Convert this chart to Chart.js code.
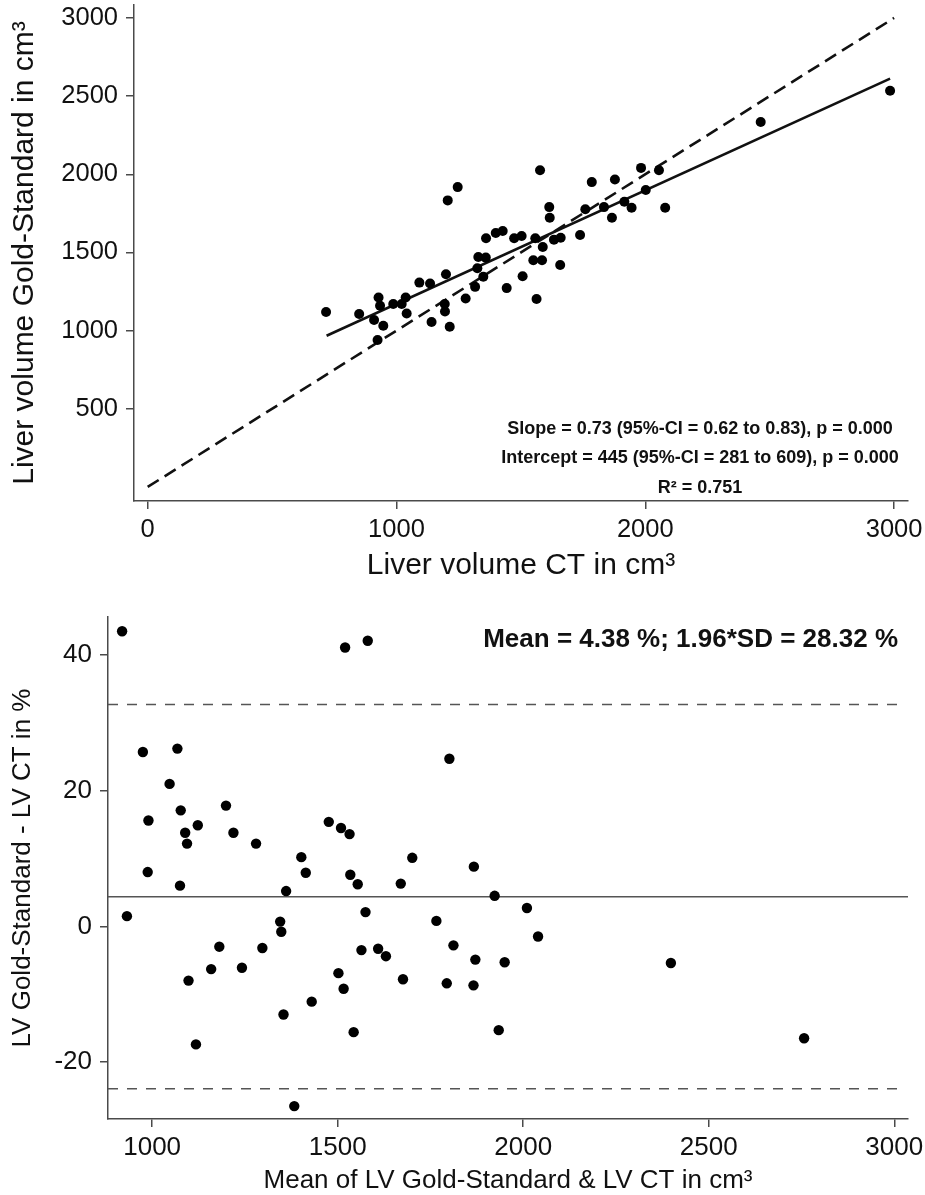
<!doctype html>
<html lang="en">
  <head>
    <meta charset="utf-8">
    <title>Liver volume CT vs Gold-Standard</title>
    <style>
      * {
        margin: 0;
        padding: 0;
      }
      body {
        width: 925px;
        height: 1195px;
        background: #fff;
        position: relative;
        overflow: hidden;
      }
      .chartBox {
        position: absolute;
        left: 0;
        width: 925px;
      }
      #topBox { top: 0; height: 592px; }
      #bottomBox { top: 592px; height: 603px; }
    </style>
  </head>
  <body>
    <div class="chartBox" id="topBox"><canvas id="scatterChart" width="925" height="592"></canvas></div>
    <div class="chartBox" id="bottomBox"><canvas id="blandChart" width="925" height="603"></canvas></div>
    <script src="https://cdn.jsdelivr.net/npm/chart.js/dist/chart.umd.min.js"></script>
    <script>
    // top panel: CT volume vs gold standard (cm3)
    const ctVolume = [1246, 1206, 1399, 1360, 1329, 1359, 1325, 1349, 1199, 1092,
                      1135, 1316, 1278, 1194, 1195, 1141, 1214, 1037, 1041, 1021,
                      987, 928, 934, 717, 850, 910, 947, 924, 1577, 1785,
                      1878, 1983, 2055, 1614, 1616, 1759, 1834, 1916, 1945, 2002,
                      2080, 1866, 1738, 1660, 1633, 1558, 1588, 1503, 1473, 1427,
                      1550, 1585, 1658, 1507, 1443, 1563, 2464, 2984];
    const gsVolume = [1918, 1833, 1624, 1591, 1471, 1467, 1399, 1344, 1361, 1307,
                      1301, 1280, 1205, 1170, 1122, 1055, 1025, 1212, 1110, 1170,
                      1170, 1212, 1159, 1119, 1106, 1068, 1031, 940, 2026, 1950,
                      1967, 2041, 2026, 1790, 1722, 1776, 1790, 1824, 1786, 1899,
                      1786, 1722, 1612, 1594, 1582, 1591, 1535, 1605, 1591, 1637,
                      1450, 1450, 1420, 1348, 1272, 1202, 2334, 2534];
    const identityX = [0, 3000];
    const identityY = [0, 3000];
    const fitX = [719, 2984];
    const fitY = [967, 2612];
    const topXTicks = [0, 1000, 2000, 3000];
    const topYTicks = [500, 1000, 1500, 2000, 2500, 3000];
    const fitStats = [
      'Slope = 0.73 (95%-CI = 0.62 to 0.83), p = 0.000',
      'Intercept = 445 (95%-CI = 281 to 609), p = 0.000',
      'R² = 0.751'
    ];

    // bottom panel: Bland-Altman
    const meanVolume = [919, 1520, 1581, 975, 1068, 1047, 1077, 990, 1089, 1094,
                        1123, 1199, 1219, 1280, 1476, 1509, 1532, 1801, 1402, 1414,
                        1534, 1554, 1670, 1701, 988, 1075, 1361, 1867, 1923,
                        932, 1345, 1348, 1181, 1297, 1575, 1564, 1609, 1630, 2010,
                        2040, 1766, 1812, 1871, 1950, 1098, 1159, 1242, 1118, 1354,
                        1430, 1502, 1516, 1543, 1676, 1794, 1383, 1866, 1934, 2398, 2757];
    const diffPercent = [43.5, 41.1, 42.1, 25.7, 26.2, 21.0, 17.1, 15.6, 13.8, 12.2,
                         14.9, 17.8, 13.8, 12.2, 15.4, 14.5, 13.6, 24.7, 10.2, 7.9,
                         7.6, 6.2, 6.3, 10.1, 8.0, 6.0, 5.2, 8.8, 4.5,
                         1.5, 0.7, -0.8, -3.0, -3.2, 2.1, -3.5, -3.3, -4.4, 2.7,
                         -1.5, 0.8, -2.8, -4.9, -5.3, -8.0, -6.3, -6.1, -17.4, -13.0,
                         -11.1, -6.9, -9.2, -15.6, -7.8, -8.4, -26.5, -8.7, -15.3, -5.4, -16.5];
    const meanX = [881, 3037];
    const meanY = [4.38, 4.38];
    const limitX = [881, 3024];
    const upperY = [32.70, 32.70];
    const lowerY = [-23.94, -23.94];
    const bottomXTicks = [1000, 1500, 2000, 2500, 3000];
    const bottomYTicks = [-20, 0, 20, 40];
    const baStats = ['Mean = 4.38 %; 1.96*SD = 28.32 %'];

    const FONT = '"Liberation Sans", Arial, sans-serif';
    const AXIS = '#4a4a4a';
    const TEXT = '#111';

    function toPoints(xs, ys) {
      return xs.map((x, i) => ({ x: x, y: ys[i] }));
    }

    // fixed ticks + fixed box size so the plot area sits where the original does
    function axis(min, max, tickList, tickSize, pad, boxSize, title, titleSize, titlePad, horizontal) {
      return {
        type: 'linear',
        min: min,
        max: max,
        afterBuildTicks: s => { s.ticks = tickList.map(v => ({ value: v })); },
        afterFit: s => {
          if (horizontal) s.height = boxSize; else s.width = boxSize;
          s.paddingLeft = 0; s.paddingRight = 0; s.paddingTop = 0; s.paddingBottom = 0;
        },
        grid: { drawOnChartArea: false, drawTicks: true, tickLength: 8, color: AXIS, lineWidth: 1.5 },
        border: { display: true, color: AXIS, width: 1.5 },
        ticks: {
          autoSkip: false,
          maxRotation: 0,
          padding: pad,
          color: TEXT,
          font: { family: FONT, size: tickSize },
          callback: v => String(v)
        },
        title: {
          display: true,
          text: title,
          color: TEXT,
          font: { family: FONT, size: titleSize, lineHeight: 1 },
          padding: titlePad
        }
      };
    }

    const statsText = {
      id: 'statsText',
      afterDatasetsDraw(chart, args, opts) {
        const { ctx, chartArea } = chart;
        ctx.save();
        ctx.fillStyle = TEXT;
        ctx.font = opts.font;
        ctx.textAlign = opts.align;
        ctx.textBaseline = 'alphabetic';
        opts.lines.forEach((line, i) => {
          ctx.fillText(line, chartArea.right + opts.dx, chartArea[opts.edge] + opts.dy[i]);
        });
        ctx.restore();
      }
    };

    // top chart
    const scatterChart = new Chart(document.getElementById('scatterChart'), {
      type: 'scatter',
      data: {
        datasets: [
          { data: toPoints(ctVolume, gsVolume), backgroundColor: '#000', pointRadius: 5, borderWidth: 0, order: 0 },
          { type: 'line', data: toPoints(identityX, identityY), borderColor: '#111', borderWidth: 2.6,
            borderDash: [13, 7], pointRadius: 0, fill: false, order: 1 },
          { type: 'line', data: toPoints(fitX, fitY), borderColor: '#111', borderWidth: 2.6,
            pointRadius: 0, fill: false, order: 1 }
        ]
      },
      options: {
        responsive: false,
        animation: false,
        layout: { padding: { top: 3, right: 17, left: 0, bottom: 0 } },
        plugins: {
          legend: { display: false },
          tooltip: { enabled: false },
          statsText: { lines: fitStats, font: 'bold 18px ' + FONT, align: 'center', dx: -208, edge: 'bottom', dy: [-67, -38, -8] }
        },
        scales: {
          x: axis(-55, 3056, topXTicks, 25.5, 6, 91, 'Liver volume CT in cm³', 30, { top: 0, bottom: 11 }, true),
          y: axis(-90, 3083, topYTicks, 25.5, 8, 134, 'Liver volume Gold-Standard in cm³', 30, { top: 10, bottom: 0 }, false)
        }
      },
      plugins: [statsText]
    });

    // bottom chart
    const blandChart = new Chart(document.getElementById('blandChart'), {
      type: 'scatter',
      data: {
        datasets: [
          { data: toPoints(meanVolume, diffPercent), backgroundColor: '#000', pointRadius: 5.2, borderWidth: 0, order: 0 },
          { type: 'line', data: toPoints(meanX, meanY), borderColor: '#555', borderWidth: 1.5, pointRadius: 0, order: 1 },
          { type: 'line', data: toPoints(limitX, upperY), borderColor: '#555', borderWidth: 1.5,
            borderDash: [10, 9], pointRadius: 0, order: 1 },
          { type: 'line', data: toPoints(limitX, lowerY), borderColor: '#555', borderWidth: 1.5,
            borderDash: [10, 9], pointRadius: 0, order: 1 }
        ]
      },
      options: {
        responsive: false,
        animation: false,
        layout: { padding: { top: 25, right: 17, left: 0, bottom: 0 } },
        plugins: {
          legend: { display: false },
          tooltip: { enabled: false },
          statsText: { lines: baStats, font: 'bold 26px ' + FONT, align: 'right', dx: -10, edge: 'top', dy: [30] }
        },
        scales: {
          x: axis(881, 3037, bottomXTicks, 26, 5, 76, 'Mean of LV Gold-Standard & LV CT in cm³', 26, { top: 0, bottom: 1 }, true),
          y: axis(-28.4, 45.6, bottomYTicks, 26, 8, 108, 'LV Gold-Standard - LV CT in %', 26, { top: 10, bottom: 0 }, false)
        }
      },
      plugins: [statsText]
    });
    </script>
  </body>
</html>
